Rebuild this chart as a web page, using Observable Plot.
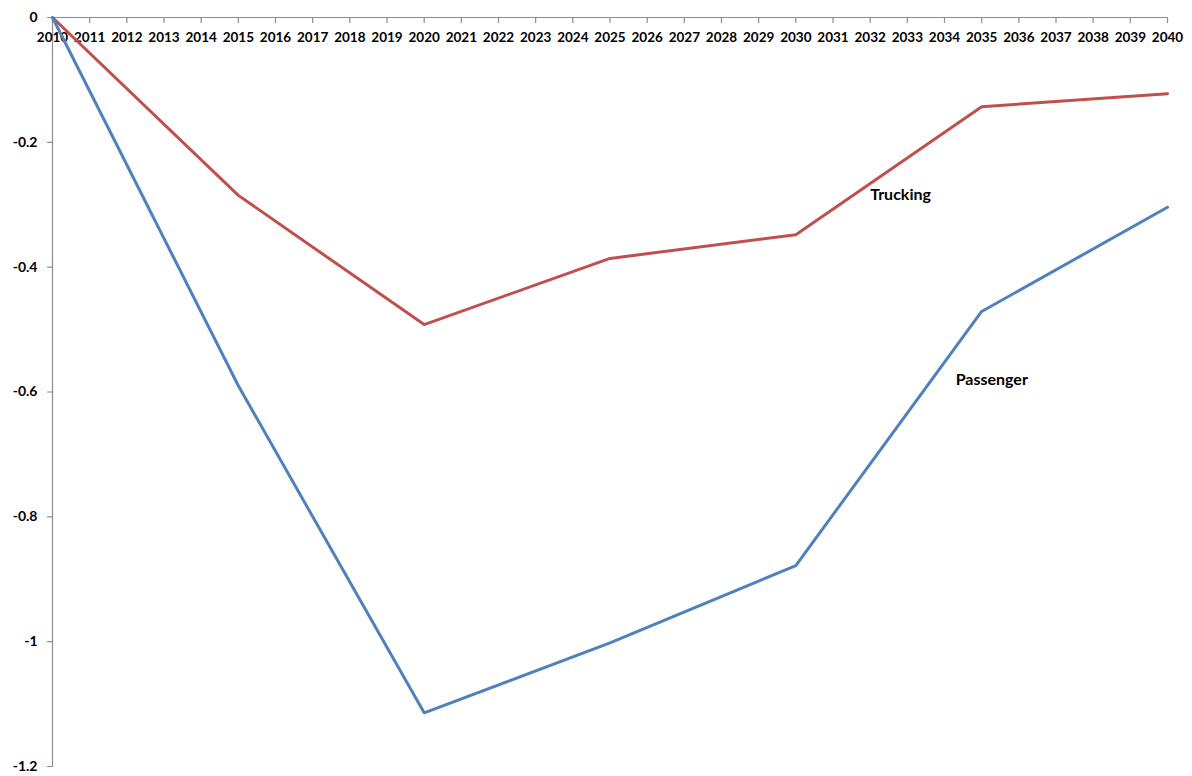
<!DOCTYPE html>
<html>
<head>
<meta charset="utf-8">
<script src="https://cdn.jsdelivr.net/npm/d3@7"></script>
<script src="https://cdn.jsdelivr.net/npm/@observablehq/plot@0.6"></script>
<style>
  html, body { margin: 0; padding: 0; background: #fff; }
</style>
</head>
<body>
<div id="chart"></div>
<script>
const years = [2010, 2015, 2020, 2025, 2030, 2035, 2040];
const trucking = [0, -0.285, -0.492, -0.386, -0.348, -0.143, -0.122];
const passenger = [0, -0.590, -1.114, -1.002, -0.878, -0.471, -0.304];
const yearTicks = d3.range(2010, 2041);
const yTicks = [0, -0.2, -0.4, -0.6, -0.8, -1, -1.2];
const labels = [
  {name: "Trucking", year: 2032, value: -0.284},
  {name: "Passenger", year: 2034.3, value: -0.58}
];

const truckRows = years.map((y, i) => ({year: y, value: trucking[i]}));
const passRows = years.map((y, i) => ({year: y, value: passenger[i]}));

const axisColor = "#8c8c8c";
const tickShape = {draw(ctx, l) { ctx.moveTo(0, 0); ctx.lineTo(0, -l); }};

const chart = Plot.plot({
  width: 1192,
  height: 776,
  marginLeft: 52,
  marginRight: 25,
  marginTop: 17,
  marginBottom: 10,
  style: "font-family: Lato, 'Open Sans', sans-serif; font-weight: bold; color: #000; background: #fff;",
  x: {domain: [2010, 2040], axis: null},
  y: {domain: [-1.2, 0], axis: null},
  marks: [
    Plot.ruleY([0], {stroke: axisColor, strokeWidth: 1.2}),
    Plot.ruleX([2010], {stroke: axisColor, strokeWidth: 1.2}),
    Plot.vector(yearTicks, {x: d => d, y: () => 0, length: 5, rotate: 180, anchor: "start", shape: tickShape, stroke: axisColor, strokeWidth: 1.2}),
    Plot.text(yearTicks, {x: d => d, y: () => 0, text: d => String(d), dy: 20, fontSize: 13.5, fontWeight: "bold", fill: "#000"}),
    Plot.vector(yTicks, {x: () => 2010, y: d => d, length: 5, rotate: -90, anchor: "start", shape: tickShape, stroke: axisColor, strokeWidth: 1.2}),
    Plot.text(yTicks, {x: () => 2010, y: d => d, text: d => String(+d.toFixed(1)), dx: -15, textAnchor: "end", fontSize: 14, fontWeight: "bold", fill: "#000"}),
    Plot.line(truckRows, {x: "year", y: "value", stroke: "#C0504D", strokeWidth: 3}),
    Plot.line(passRows, {x: "year", y: "value", stroke: "#4F81BD", strokeWidth: 3}),
    Plot.text(labels, {x: "year", y: "value", text: "name", textAnchor: "start", fontSize: 16, fontWeight: "bold", fill: "#000"})
  ]
});
document.getElementById("chart").appendChild(chart);
</script>
</body>
</html>
